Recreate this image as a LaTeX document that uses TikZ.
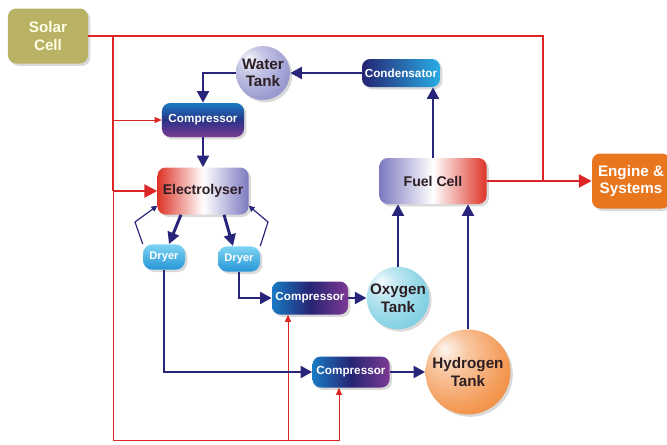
\documentclass[tikz,border=0pt]{standalone}
\usepackage{fontspec}
\setmainfont{Liberation Sans}
\usetikzlibrary{arrows.meta,shadows}
\definecolor{navy}{RGB}{40,36,122}
\definecolor{powerred}{RGB}{220,38,38}
\definecolor{olive}{RGB}{185,178,100}
\definecolor{engineorange}{RGB}{232,118,30}
\definecolor{compblue}{RGB}{25,122,195}
\definecolor{compdark}{RGB}{38,36,115}
\definecolor{compmid}{RGB}{40,52,135}
\definecolor{comppurple}{RGB}{125,58,148}
\definecolor{condblue}{RGB}{40,172,228}
\definecolor{dryerlight}{RGB}{125,212,242}
\definecolor{dryerblue}{RGB}{38,150,215}
\definecolor{lavender}{RGB}{125,122,192}
\definecolor{cellred}{RGB}{222,52,40}
\definecolor{waterblue}{RGB}{145,145,205}
\definecolor{oxycyan}{RGB}{120,205,225}
\definecolor{hydorange}{RGB}{242,140,62}
\definecolor{darktext}{RGB}{45,30,35}
\colorlet{tankcolor}{waterblue}
\pgfdeclareradialshading[tankcolor]{tankball}{\pgfqpoint{-14bp}{14bp}}{color(0bp)=(tankcolor!8!white); color(12bp)=(tankcolor!50!white); color(32bp)=(tankcolor!92!white); color(50bp)=(tankcolor!90!black); color(68bp)=(tankcolor!72!black)}
\begin{document}
\begin{tikzpicture}[x=0.03cm,y=0.03cm,
    box/.style={rounded corners=7pt,inner sep=0pt,align=center,
        drop shadow={opacity=0.3,shadow xshift=2pt,shadow yshift=-2pt}},
    tank/.style={circle,inner sep=0pt,align=center,text=darktext,
        shading=tankball,/utils/exec={\colorlet{tankcolor}{#1}},
        font=\fontsize{13}{15}\selectfont\bfseries,
        drop shadow={opacity=0.3,shadow xshift=2pt,shadow yshift=-2pt}},
    comp/.style={box,text=white,font=\fontsize{10}{12}\selectfont\bfseries},
    dryer/.style={box,rounded corners=8pt,text=white,top color=dryerlight,bottom color=dryerblue,
        minimum width=1.26cm,minimum height=0.76cm,font=\fontsize{9.5}{11}\selectfont\bfseries},
    pipe/.style={line width=2.5pt,navy,-{Triangle[length=10pt,width=10pt]}},
    pipethin/.style={line width=1pt,navy,-{Triangle[length=5pt,width=5pt]}},
    power/.style={line width=2pt,powerred},
    powerthin/.style={line width=0.8pt,powerred}]
    \useasboundingbox (0,0) rectangle (667,-445);
    \node[box,fill=olive,text=white!90!yellow,minimum width=2.4cm,minimum height=1.65cm,font=\fontsize{13}{15}\selectfont\bfseries] (solar) at (48,-36) {Solar\\Cell};
    \node[tank=waterblue,minimum size=1.62cm] (water) at (263,-73) {Water\\Tank};
    \node[comp,left color=compdark,right color=condblue,minimum width=2.34cm,minimum height=0.84cm] (cond) at (401,-73) {Condensator};
    \node[comp,top color=compblue,bottom color=comppurple,middle color=compmid,minimum width=2.46cm,minimum height=1.02cm] (comp1) at (203,-120) {Compressor};
    \node[box,left color=cellred,right color=lavender,middle color=white,text=darktext,minimum width=2.73cm,minimum height=1.41cm,font=\fontsize{12}{14}\selectfont\bfseries] (elec) at (203,-191) {Electrolyser};
    \node[box,left color=lavender,right color=cellred,middle color=white,text=darktext,minimum width=3.21cm,minimum height=1.38cm,font=\fontsize{12}{14}\selectfont\bfseries] (fuel) at (433,-181) {Fuel Cell};
    \node[box,fill=engineorange,text=white,minimum width=2.34cm,minimum height=1.65cm,font=\fontsize{13}{15}\selectfont\bfseries] (engine) at (631,-181) {Engine \&\\Systems};
    \node[dryer] (dry1) at (164,-257) {Dryer};
    \node[dryer] (dry2) at (239,-259) {Dryer};
    \node[comp,left color=compblue,right color=comppurple,middle color=compdark,minimum width=2.28cm,minimum height=0.99cm] (comp2) at (310,-298) {Compressor};
    \node[comp,left color=compblue,right color=comppurple,middle color=compdark,minimum width=2.31cm,minimum height=0.93cm] (comp3) at (351,-372) {Compressor};
    \node[tank=oxycyan,minimum size=1.86cm] (oxy) at (398,-298) {Oxygen\\Tank};
    \node[tank=hydorange,minimum size=2.55cm] (hyd) at (468,-372) {Hydrogen\\Tank};
    \coordinate (sv) at (113,-36);
    \coordinate (se) at (543,-36);
    \coordinate (bl) at (113,-440);
    \coordinate (c2in) at ([xshift=-0.66cm]comp2.south);
    \coordinate (c3in) at ([xshift=-0.36cm]comp3.south);
    \coordinate (k1) at (135,-222);
    \coordinate (k2) at (268,-222);
    \draw[power] (solar.east) -- (se) -- (se |- fuel.east);
    \draw[power,-{Triangle[length=11pt,width=11pt]}] (fuel.east) -- (engine.west);
    \draw[power] (sv) -- (sv |- elec.west);
    \draw[power,-{Triangle[length=11pt,width=11pt]}] (sv |- elec.west) -- (elec.west);
    \draw[powerthin,-{Triangle[length=6pt,width=5pt]}] (sv |- comp1.west) -- (comp1.west);
    \draw[powerthin,-{Triangle[length=6pt,width=5pt]}] (sv |- elec.west) -- (bl) -| (c3in);
    \draw[powerthin,-{Triangle[length=6pt,width=5pt]}] (c2in |- bl) -- (c2in);
    \draw[pipe] (cond.west) -- (water.east);
    \draw[pipe] (water.west) -| (comp1.north);
    \draw[pipe] (comp1.south) -- (elec.north);
    \draw[pipe] ([xshift=-0.66cm]elec.south) -- ([xshift=0.15cm]dry1.north);
    \draw[pipe] ([xshift=0.63cm]elec.south) -- ([xshift=-0.18cm]dry2.north);
    \draw[pipethin] (dry1.north west) -- (k1) -- ([yshift=0.27cm]elec.south west);
    \draw[pipethin] (dry2.north east) -- (k2) -- ([yshift=0.27cm]elec.south east);
    \draw[pipe] (dry2.south) |- (comp2.west);
    \draw[pipe] (comp2.east) -- (oxy.west);
    \draw[pipe] (dry1.south) |- (comp3.west);
    \draw[pipe] (comp3.east) -- (hyd.west);
    \draw[pipe] (oxy.north) -- (oxy.north |- fuel.south);
    \draw[pipe] (hyd.north) -- (hyd.north |- fuel.south);
    \draw[pipe] (fuel.north) -- (fuel.north |- cond.south);
\end{tikzpicture}
\end{document}
